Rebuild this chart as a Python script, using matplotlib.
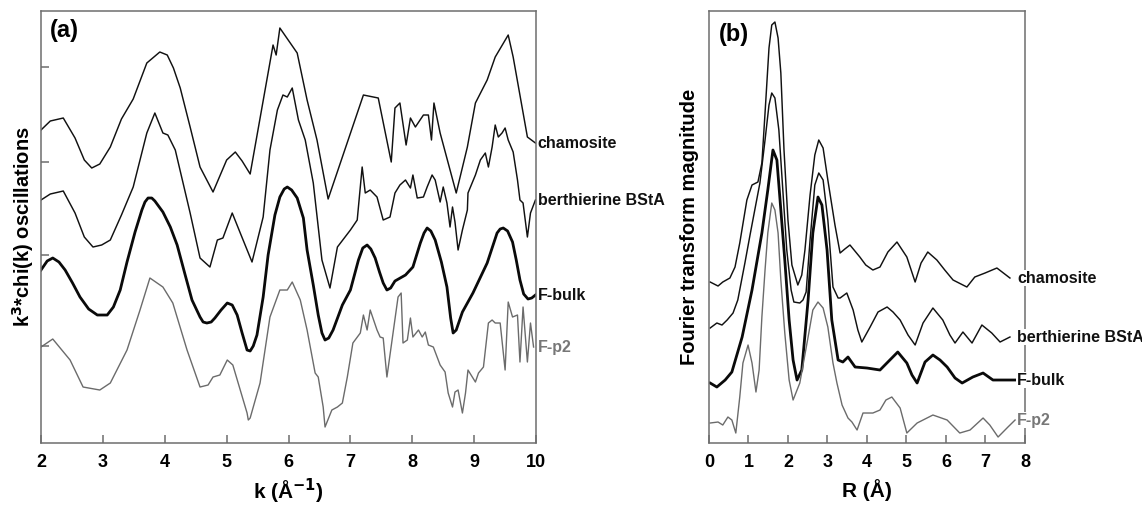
import numpy as np
import matplotlib
matplotlib.use('Agg')
import matplotlib.pyplot as plt
from matplotlib import rc
from matplotlib.transforms import blended_transform_factory

rc('font', **{'family': 'sans-serif', 'sans-serif': ['Liberation Sans', 'DejaVu Sans'], 'weight': 'bold'})
rc('mathtext', default='bf')

# (a) k^3-weighted EXAFS, offset stack (arbitrary units)
k_cham = [2.00, 2.15, 2.36, 2.55, 2.70, 2.82, 2.95, 3.12, 3.30, 3.49, 3.71, 3.92, 4.04, 4.14, 4.25,
          4.41, 4.57, 4.78, 5.00, 5.14, 5.25, 5.38, 5.75, 5.80, 5.86, 6.14, 6.30, 6.46, 6.64, 7.21,
          7.45, 7.66, 7.72, 7.80, 7.90, 7.97, 8.05, 8.18, 8.26, 8.31, 8.35, 8.45, 8.71, 8.89, 9.02,
          9.21, 9.34, 9.55, 9.63, 9.86, 9.99]
chi_cham = [31.3, 32.2, 32.5, 30.5, 28.3, 27.5, 27.9, 29.6, 32.4, 34.4, 38.0, 39.1, 38.8, 37.5, 35.5,
            31.6, 27.6, 25.1, 28.3, 29.1, 28.2, 26.9, 39.8, 38.8, 41.5, 39.0, 34.3, 30.3, 24.4, 34.8,
            34.5, 28.1, 33.5, 34.0, 29.8, 32.5, 31.6, 32.8, 32.8, 30.3, 34.0, 31.0, 25.0, 29.6, 34.0,
            36.3, 38.6, 40.8, 38.6, 30.6, 30.0]

k_bert = [2.00, 2.15, 2.36, 2.55, 2.70, 2.84, 2.98, 3.12, 3.30, 3.49, 3.71, 3.84, 3.97, 4.05, 4.17,
          4.41, 4.57, 4.73, 4.85, 4.94, 5.09, 5.22, 5.41, 5.59, 5.70, 5.82, 5.91, 5.98, 6.06, 6.16,
          6.27, 6.40, 6.54, 6.67, 6.79, 7.00, 7.11, 7.19, 7.24, 7.32, 7.43, 7.53, 7.64, 7.72, 7.80,
          7.89, 7.97, 8.01, 8.08, 8.18, 8.24, 8.32, 8.37, 8.45, 8.50, 8.56, 8.61, 8.65, 8.69, 8.74,
          8.81, 8.89, 8.90, 9.02, 9.10, 9.18, 9.23, 9.29, 9.34, 9.39, 9.45, 9.50, 9.55, 9.63, 9.70,
          9.74, 9.79, 9.86, 9.91, 9.99]
chi_bert = [24.3, 24.9, 25.2, 23.0, 20.6, 19.6, 19.8, 20.3, 22.8, 25.6, 31.0, 33.0, 31.0, 30.8, 29.3,
            23.0, 18.5, 17.6, 20.3, 20.5, 23.0, 21.0, 18.1, 22.6, 29.3, 33.3, 34.8, 34.6, 35.5, 32.3,
            30.3, 26.0, 18.3, 15.5, 19.6, 21.3, 22.3, 27.6, 25.0, 25.3, 24.6, 22.3, 22.6, 25.0, 25.8,
            26.3, 25.5, 26.8, 24.5, 24.6, 25.6, 26.8, 26.3, 24.1, 25.6, 24.0, 21.6, 23.6, 22.1, 19.3,
            21.3, 23.3, 25.0, 26.8, 28.3, 29.0, 27.6, 29.6, 31.8, 30.6, 31.0, 31.5, 30.3, 29.1, 26.3,
            24.3, 24.0, 20.6, 23.0, 24.3]

k_bulk = [2.00, 2.10, 2.19, 2.29, 2.39, 2.51, 2.63, 2.77, 2.91, 3.07, 3.17, 3.28, 3.39, 3.52, 3.63,
          3.68, 3.73, 3.79, 3.84, 3.97, 4.09, 4.20, 4.33, 4.44, 4.57, 4.62, 4.68, 4.75, 4.81, 4.91,
          5.01, 5.09, 5.17, 5.25, 5.33, 5.38, 5.43, 5.49, 5.59, 5.67, 5.78, 5.86, 5.93, 5.98, 6.05,
          6.14, 6.24, 6.30, 6.40, 6.48, 6.54, 6.59, 6.65, 6.72, 6.87, 7.00, 7.13, 7.20, 7.27, 7.33,
          7.40, 7.47, 7.53, 7.59, 7.65, 7.72, 7.89, 8.01, 8.13, 8.19, 8.24, 8.30, 8.37, 8.47, 8.56,
          8.62, 8.66, 8.71, 8.81, 8.98, 9.21, 9.37, 9.42, 9.47, 9.54, 9.62, 9.68, 9.74, 9.80, 9.87,
          9.93, 9.99]
chi_bulk = [17.3, 18.2, 18.5, 18.1, 17.3, 16.0, 14.6, 13.4, 12.8, 12.8, 13.6, 15.3, 18.1, 21.1, 23.3,
            24.1, 24.5, 24.5, 24.2, 23.1, 21.6, 19.8, 16.8, 14.3, 12.6, 12.1, 12.0, 12.1, 12.5, 13.3,
            14.0, 13.8, 12.8, 11.0, 9.3, 9.2, 9.7, 10.8, 14.6, 18.8, 22.8, 24.6, 25.4, 25.6, 25.3,
            24.5, 22.5, 19.3, 15.8, 12.8, 11.0, 10.3, 10.5, 11.3, 13.8, 15.3, 18.3, 19.5, 19.8, 19.4,
            18.5, 17.1, 16.0, 15.3, 15.5, 16.2, 16.8, 17.6, 20.0, 21.0, 21.5, 21.2, 20.3, 18.1, 15.6,
            12.5, 11.0, 11.3, 13.1, 15.0, 18.0, 21.0, 21.4, 21.5, 21.2, 20.1, 18.3, 16.3, 14.9, 14.4,
            14.5, 14.8]

k_p2 = [2.00, 2.19, 2.47, 2.68, 2.95, 3.12, 3.39, 3.60, 3.76, 3.97, 4.13, 4.36, 4.57, 4.70, 4.78,
        4.89, 5.01, 5.10, 5.33, 5.35, 5.38, 5.54, 5.70, 5.86, 5.98, 6.06, 6.19, 6.30, 6.43, 6.48,
        6.56, 6.59, 6.70, 6.79, 6.87, 6.95, 7.04, 7.16, 7.21, 7.27, 7.32, 7.43, 7.48, 7.53, 7.59,
        7.68, 7.77, 7.82, 7.85, 7.92, 7.97, 8.01, 8.10, 8.16, 8.21, 8.26, 8.34, 8.45, 8.53, 8.58,
        8.65, 8.69, 8.74, 8.81, 8.86, 8.90, 9.02, 9.07, 9.15, 9.23, 9.29, 9.34, 9.42, 9.50, 9.55,
        9.62, 9.70, 9.74, 9.79, 9.86, 9.91, 9.96]
chi_p2 = [9.6, 10.4, 8.3, 5.6, 5.3, 6.0, 9.3, 13.3, 16.5, 15.6, 14.0, 9.3, 5.6, 5.8, 6.6,
          6.8, 8.3, 7.8, 3.0, 2.3, 2.5, 6.0, 12.6, 15.3, 15.3, 16.1, 14.3, 11.3, 7.0, 6.6,
          3.6, 1.6, 3.3, 3.6, 4.0, 6.6, 10.0, 11.0, 12.8, 11.3, 13.3, 11.3, 10.6, 10.5, 6.6,
          10.6, 14.6, 15.0, 10.0, 10.3, 12.5, 10.6, 11.3, 10.6, 11.1, 9.8, 9.6, 7.8, 7.1, 5.0,
          3.6, 5.1, 5.3, 3.0, 5.0, 7.3, 6.1, 7.0, 7.6, 12.0, 12.3, 12.0, 12.0, 7.3, 14.1,
          12.6, 12.8, 8.1, 13.6, 8.1, 12.0, 9.6]

# (b) Fourier transform magnitude, offset stack
r_cham = [0.03, 0.23, 0.35, 0.53, 0.66, 0.78, 0.96, 1.09, 1.24, 1.34, 1.42, 1.52, 1.59, 1.67, 1.75,
          1.82, 1.90, 2.00, 2.10, 2.25, 2.35, 2.43, 2.56, 2.68, 2.78, 2.89, 3.01, 3.19, 3.32, 3.44,
          3.57, 3.82, 3.97, 4.15, 4.33, 4.53, 4.76, 5.01, 5.22, 5.37, 5.54, 5.77, 5.97, 6.18, 6.53,
          6.73, 6.99, 7.29, 7.62]
ft_cham = [16.1, 15.7, 16.1, 16.5, 17.6, 20.0, 24.3, 25.8, 26.1, 28.0, 33.0, 39.5, 41.8, 42.1, 40.5,
           37.0, 29.3, 22.3, 17.8, 15.8, 16.8, 19.3, 24.8, 28.8, 30.3, 29.5, 26.3, 21.8, 19.0, 19.4,
           19.8, 18.6, 17.8, 17.3, 17.6, 19.1, 20.1, 18.6, 16.1, 18.0, 19.1, 18.3, 17.3, 16.3, 15.6,
           16.6, 17.0, 17.5, 16.5]

r_bert = [0.03, 0.20, 0.33, 0.46, 0.61, 0.73, 0.91, 1.04, 1.16, 1.29, 1.42, 1.52, 1.59, 1.67, 1.77,
          1.87, 1.97, 2.08, 2.15, 2.30, 2.38, 2.46, 2.56, 2.68, 2.78, 2.89, 3.01, 3.14, 3.27, 3.32,
          3.49, 3.65, 3.77, 3.87, 4.08, 4.28, 4.51, 4.66, 4.84, 5.04, 5.22, 5.42, 5.67, 5.92, 6.10,
          6.23, 6.43, 6.66, 6.91, 7.16, 7.37, 7.62]
ft_bert = [11.5, 12.0, 11.8, 12.3, 13.0, 14.3, 18.0, 20.8, 23.3, 26.0, 30.3, 33.8, 35.0, 34.5, 31.3,
           25.3, 19.3, 15.3, 14.1, 14.0, 14.3, 15.1, 20.3, 25.8, 27.0, 26.3, 22.3, 15.6, 14.5, 14.5,
           15.0, 13.3, 11.3, 10.1, 11.6, 13.1, 13.6, 13.1, 12.3, 10.8, 9.8, 12.0, 13.5, 12.3, 10.8,
           10.0, 11.1, 10.0, 11.8, 11.0, 10.1, 10.6]

r_bulk = [0.03, 0.20, 0.41, 0.58, 0.84, 1.09, 1.34, 1.49, 1.62, 1.72, 1.82, 1.92, 2.03, 2.13, 2.23,
          2.35, 2.51, 2.63, 2.76, 2.86, 2.99, 3.11, 3.27, 3.39, 3.52, 3.70, 4.00, 4.33, 4.58, 4.78,
          5.01, 5.14, 5.27, 5.47, 5.67, 5.85, 6.03, 6.23, 6.41, 6.68, 6.94, 7.19, 7.54, 7.80]
ft_bulk = [6.0, 5.6, 6.3, 7.1, 10.6, 15.3, 21.0, 25.3, 29.3, 28.3, 23.3, 18.3, 12.3, 8.3, 6.3,
           7.3, 14.3, 21.0, 24.6, 23.8, 19.3, 12.3, 8.3, 8.1, 8.6, 7.6, 7.5, 7.3, 8.3, 9.1,
           8.0, 6.8, 6.0, 8.1, 8.8, 8.3, 7.6, 6.5, 6.0, 6.6, 7.0, 6.3, 6.3, 6.3]

r_p2 = [0.03, 0.23, 0.35, 0.48, 0.58, 0.68, 0.78, 0.86, 0.99, 1.09, 1.19, 1.27, 1.34, 1.42, 1.49,
        1.59, 1.67, 1.75, 1.82, 1.92, 2.03, 2.13, 2.30, 2.51, 2.63, 2.76, 2.89, 3.01, 3.14, 3.24,
        3.37, 3.52, 3.62, 3.75, 3.90, 4.15, 4.33, 4.48, 4.63, 4.84, 5.01, 5.27, 5.67, 6.03, 6.35,
        6.61, 6.94, 7.11, 7.32, 7.57, 7.75]
ft_p2 = [2.0, 2.1, 1.8, 2.6, 2.3, 1.0, 4.6, 8.0, 9.8, 8.0, 5.1, 7.3, 12.6, 17.3, 21.0,
         24.0, 23.3, 21.0, 16.3, 11.0, 6.3, 4.3, 6.0, 10.6, 13.3, 14.1, 13.5, 11.6, 8.0, 6.0,
         3.8, 2.5, 2.1, 1.3, 3.0, 3.0, 3.3, 4.3, 4.6, 3.5, 1.0, 2.0, 2.8, 2.3, 1.0,
         1.3, 2.5, 1.8, 0.6, 1.6, 2.3]

names = ['chamosite', 'berthierine BStA', 'F-bulk', 'F-p2']
a_series = [(k_cham, chi_cham), (k_bert, chi_bert), (k_bulk, chi_bulk), (k_p2, chi_p2)]
b_series = [(r_cham, ft_cham), (r_bert, ft_bert), (r_bulk, ft_bulk), (r_p2, ft_p2)]
a_yticks = [9.7, 18.8, 28.1, 37.6]

colors = ['#111111', '#111111', '#0a0a0a', '#6b6b6b']
widths = [1.05, 1.05, 2.0, 1.0]
label_colors = ['#111111', '#111111', '#111111', '#777777']
spine_color = '#6e6e6e'

fig = plt.figure(figsize=(11.42, 5.07), dpi=100)
ax1 = fig.add_axes([0.0359, 0.1262, 0.4335, 0.8521])
ax2 = fig.add_axes([0.6208, 0.1262, 0.2767, 0.8521])

def style_axes(ax):
    for s in ax.spines.values():
        s.set_color(spine_color)
        s.set_linewidth(1.1)
    ax.tick_params(direction='in', length=6, width=1.1, color=spine_color,
                   labelsize=13, pad=8, top=False, right=False)
    for lab in ax.get_xticklabels():
        lab.set_fontweight('bold')

def label_curves(ax, series, xpos):
    tr = blended_transform_factory(ax.transAxes, ax.transData)
    for (x, y), name, c in zip(series, names, label_colors):
        ax.text(xpos, y[-1], name, transform=tr, ha='left', va='center', fontsize=11.5,
                fontweight='bold', color=c, clip_on=False, zorder=5,
                bbox=dict(facecolor='white', edgecolor='none', pad=0.6))

def place_labels(ax, xl_y, yl_x):
    ax.xaxis.label.set_va('center')
    ax.xaxis.set_label_coords(0.5, xl_y)
    ax.yaxis.label.set_va('center')
    ax.yaxis.set_label_coords(yl_x, 0.5)

# (a)
for (x, y), c, w in zip(a_series, colors, widths):
    ax1.plot(x, y, color=c, lw=w, solid_joinstyle='round')
ax1.set_xlim(2, 10)
ax1.set_ylim(0, 43.2)
ax1.set_xticks(range(2, 11))
ax1.set_yticks(a_yticks)
ax1.set_yticklabels([])
style_axes(ax1)
ax1.set_xlabel(r'k (Å$^{\mathbf{-1}}$)', fontsize=15, fontweight='bold')
ax1.set_ylabel(r'k$^{\mathbf{3}}$*chi(k) oscillations', fontsize=14.5, fontweight='bold')
place_labels(ax1, -0.112, -0.036)
ax1.text(0.017, 0.955, '(a)', transform=ax1.transAxes, fontsize=17, fontweight='bold', va='center')
label_curves(ax1, a_series, 1.003)

# (b)
for (x, y), c, w in zip(b_series, colors, widths):
    ax2.plot(x, y, color=c, lw=w, solid_joinstyle='round')
ax2.set_xlim(0, 8)
ax2.set_ylim(0, 43.2)
ax2.set_xticks(range(0, 9))
ax2.set_yticks([])
style_axes(ax2)
ax2.set_xlabel('R (Å)', fontsize=15, fontweight='bold')
ax2.set_ylabel('Fourier transform magnitude', fontsize=14.5, fontweight='bold')
place_labels(ax2, -0.108, -0.062)
ax2.text(0.03, 0.945, '(b)', transform=ax2.transAxes, fontsize=17, fontweight='bold', va='center')
label_curves(ax2, b_series, 0.975)

fig.savefig('out.png', dpi=100)
